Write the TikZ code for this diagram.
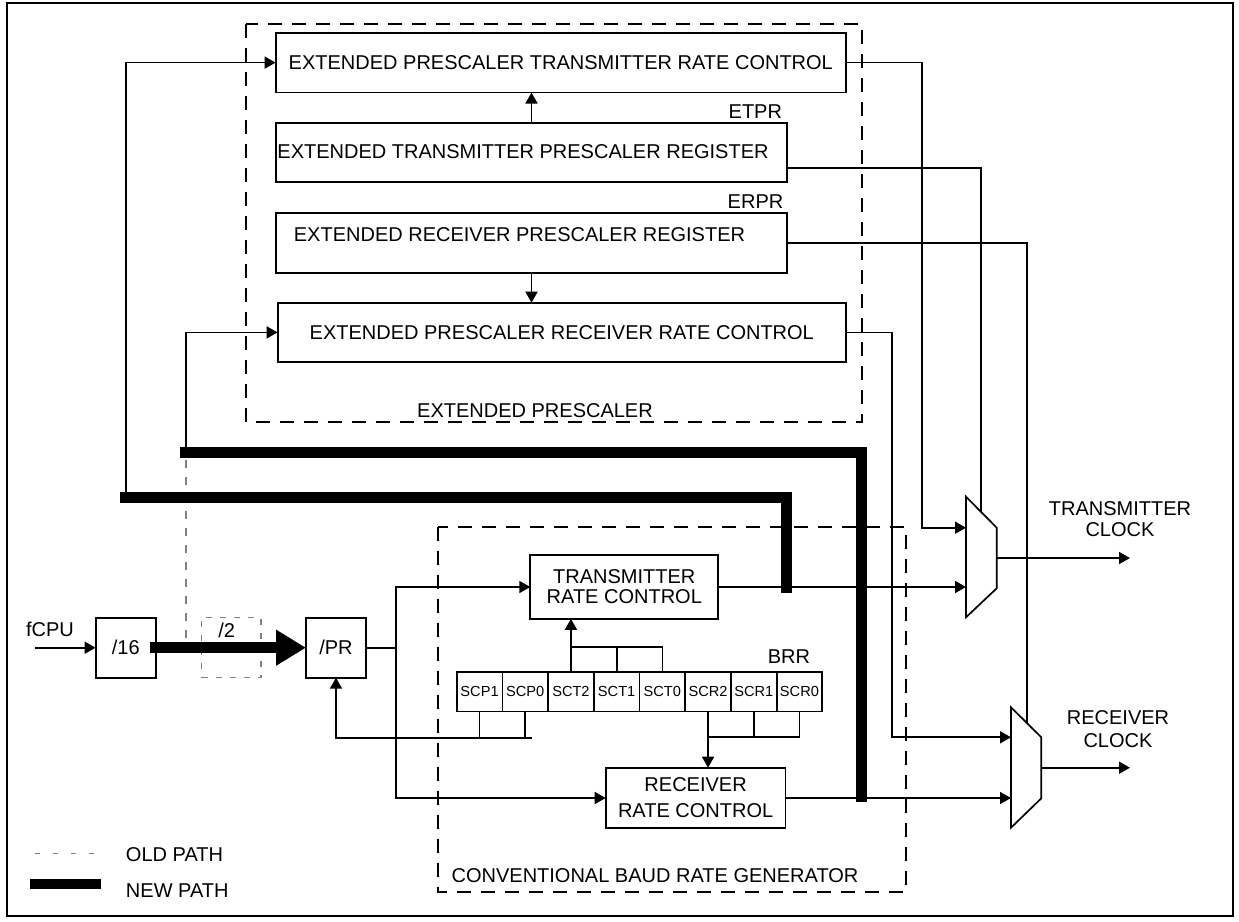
\documentclass[tikz,border=0pt]{standalone}
\usepackage{fontspec}
\setmainfont{Liberation Sans}
\usetikzlibrary{arrows.meta,calc}
\definecolor{oldgray}{RGB}{128,128,128}
\begin{document}
\begin{tikzpicture}[x=0.5pt,y=-0.5pt,
  line width=0.85pt,
  every node/.style={inner sep=0pt, outer sep=0pt},
  box/.style={draw, rectangle, line width=0.9pt, font=\fontsize{10}{10}\selectfont, align=center},
  lbl/.style={font=\fontsize{10}{10}\selectfont, align=center},
  cell/.style={draw, rectangle, line width=0.9pt, minimum width=22.85pt, minimum height=19.7pt, font=\fontsize{7.3}{8}\selectfont},
  arr/.style={-{Triangle[length=5.5pt,width=6pt]}},
  newpath/.style={line width=5.3pt, line cap=butt, line join=miter},
  oldpath/.style={draw=oldgray, dash pattern=on 4pt off 4.5pt, line width=0.75pt},
  grp/.style={dash pattern=on 7pt off 5pt, line width=0.9pt}
]
\useasboundingbox (0,0) rectangle (1239,922);
\draw[line width=0.9pt] (7,3) rectangle (1233,916);

% group frames
\draw[grp] (245.7,24) rectangle (862,422);
\node[lbl] (extlbl) at (535,411) {EXTENDED PRESCALER};
\draw[grp] (437.7,526.7) rectangle (905.7,891.7);
\node[lbl] (convlbl) at (655,876) {CONVENTIONAL BAUD RATE GENERATOR};

% extended prescaler blocks
\node[box, minimum width=285.2pt, minimum height=29.9pt] (eptrc) at (560.8,62.6) {EXTENDED PRESCALER TRANSMITTER RATE CONTROL};
\node[box, minimum width=255.8pt, minimum height=29.8pt] (etpr) at (531.5,152.5) {};
\node[lbl] (etprtxt) at (523,152) {EXTENDED TRANSMITTER PRESCALER REGISTER};
\node[lbl, anchor=east] (etprlbl) at (782,111.7) {ETPR};
\node[box, minimum width=255.8pt, minimum height=30pt] (erpr) at (531.5,242.7) {};
\node[lbl] (erprtxt) at (519.5,235) {EXTENDED RECEIVER PRESCALER REGISTER};
\node[lbl, anchor=east] (erprlbl) at (783.3,201.7) {ERPR};
\node[box, minimum width=284.2pt, minimum height=29.7pt] (eprrc) at (561.8,332.4) {EXTENDED PRESCALER RECEIVER RATE CONTROL};

\draw[arr] (etpr.north) -- (etpr.north |- eptrc.south);
\draw[arr] (erpr.south) -- (erpr.south |- eprrc.north);

% input chain
\node[lbl] (fcpu) at (50,629) {fCPU};
\coordinate (fin) at (35,647.7);
\node[box, minimum width=30.2pt, minimum height=30pt] (d16) at (125.8,647.7) {/16};
\node[draw=oldgray, dash pattern=on 3pt off 4pt, line width=0.75pt, minimum width=29.7pt, minimum height=30pt] (d2) at (231.3,647.7) {};
\node[lbl] (d2lbl) at (226.7,630) {/2};
\node[box, minimum width=30pt, minimum height=30pt] (dpr) at (336,647.7) {/PR};
\draw[arr] (fin) -- (d16.west);

% conventional blocks
\node[box, minimum width=94pt, minimum height=31.8pt] (trc) at (624.3,587) {TRANSMITTER\\RATE CONTROL};
\node[box, minimum width=89.9pt, minimum height=30.3pt, font=\fontsize{10}{13}\selectfont] (rrc) at (695.6,798) {RECEIVER\\RATE CONTROL};
\foreach \n [count=\i from 0] in {SCP1,SCP0,SCT2,SCT1,SCT0,SCR2,SCR1,SCR0}
  \node[cell] (\n) at ({456.7+45.7*(\i+0.5)},691.7) {\n};
\node[lbl] (brr) at (789,656.7) {BRR};

% bus from /PR
\coordinate (bus) at (395.7,647.7);
\draw (dpr.east) -- (bus);
\draw[arr] (bus) |- (trc.west);
\draw[arr] (bus) |- (rrc.west);

% BRR fields
\draw[arr] (SCT2.north) -- (SCT2.north |- trc.south);
\draw (SCT2.north) ++(0,-25.3) -| (SCT0.north);
\draw (SCT1.north) -- ++(0,-25.3);
\coordinate (fb) at (531.7,737.7);
\draw[arr] (fb) -| (dpr.south);
\draw (SCP1.south) -- (SCP1.south |- fb);
\draw (SCP0.south) -- (SCP0.south |- fb);
\draw[arr] (SCR2.south) -- (SCR2.south |- rrc.north);
\draw (SCR2.south) ++(0,25.7) -| (SCR0.south);
\draw (SCR1.south) -- ++(0,25.7);

% multiplexers
\draw (966,496.7) -- (996.7,527.7) -- (996.7,588.3) -- (966,617.3) -- cycle;
\coordinate (m1a) at (966,527.7);
\coordinate (m1b) at (966,587);
\coordinate (m1o) at (996.7,558);
\coordinate (m1t) at (980.7,511.5);
\draw (1011,707.3) -- (1041.3,737.3) -- (1041.3,798.3) -- (1011,827.7) -- cycle;
\coordinate (m2a) at (1011,737.3);
\coordinate (m2b) at (1011,798);
\coordinate (m2o) at (1041.3,767.7);
\coordinate (m2t) at (1026.7,722.5);

\coordinate (j1) at (921.7,62.6);
\draw[arr] (eptrc.east) -- (j1) |- (m1a);
\draw ($(etpr.south east)+(0,-14.6)$) -| (m1t);
\draw (erpr.east) -| (m2t);
\coordinate (j2) at (892,332.4);
\draw[arr] (eprrc.east) -- (j2) |- (m2a);
\draw[arr] (trc.east) -- (m1b);
\draw[arr] (rrc.east) -- (m2b);

\coordinate (txclk) at (1130,558);
\coordinate (rxclk) at (1130,767.7);
\draw[arr] (m1o) -- (txclk);
\draw[arr] (m2o) -- (rxclk);
\node[lbl, font=\fontsize{10}{10.5}\selectfont] (txlbl) at (1120,519.5) {TRANSMITTER\\CLOCK};
\node[lbl, font=\fontsize{10}{11.8}\selectfont] (rxlbl) at (1118,729) {RECEIVER\\CLOCK};

% extended inputs
\coordinate (a1) at (126,497.5);
\draw[arr] (a1) |- (eptrc.west);
\coordinate (a2) at (186,452.7);
\draw[arr] (a2) |- (eprrc.west);

% old path
\coordinate (o1) at (186,460);
\coordinate (o2) at (186,647.7);
\draw[oldpath] (o1) -- (o2);

% new paths
\coordinate (n1s) at (120,497.5);
\coordinate (n1c) at (786.7,497.5);
\coordinate (n1e) at (786.7,593.3);
\draw[newpath] (n1s) -- (n1c) -- (n1e);
\coordinate (n2s) at (180,452.7);
\coordinate (n2c) at (861.5,452.7);
\coordinate (n2e) at (861.5,801.7);
\draw[newpath] (n2s) -- (n2c) -- (n2e);
\coordinate (thk) at (150,647.7);
\draw[line width=5.5pt, -{Triangle[length=15pt,width=17pt]}] (thk) -- (dpr.west);

% legend
\coordinate (l1a) at (35,853.3);
\coordinate (l1b) at (97,853.3);
\draw[draw=oldgray, line width=0.75pt, dash pattern=on 2.5pt off 6.5pt] (l1a) -- (l1b);
\node[lbl, anchor=west] (oldlbl) at (126,855) {OLD PATH};
\coordinate (l2a) at (30,884);
\coordinate (l2b) at (101,884);
\draw[newpath] (l2a) -- (l2b);
\node[lbl, anchor=west] (newlbl) at (126,891) {NEW PATH};
\end{tikzpicture}
\end{document}
